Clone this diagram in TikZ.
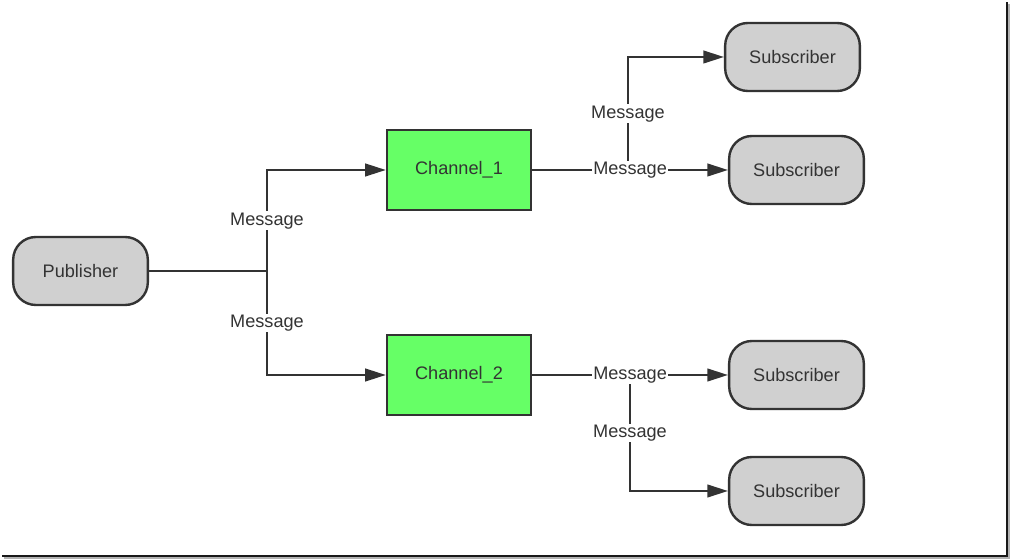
\documentclass[tikz,border=0pt]{standalone}
\usepackage{fontspec}
\setmainfont{Liberation Sans}
\usetikzlibrary{arrows.meta, positioning, calc}

\definecolor{linegray}{HTML}{333333}
\definecolor{boxgray}{HTML}{D0D0D0}
\definecolor{chgreen}{HTML}{66FF66}

\begin{document}
\begin{tikzpicture}[x=0.75pt, y=-0.75pt,
    every node/.style={font=\fontsize{13.6}{16}\selectfont, text=linegray},
    actor/.style={draw=linegray, line width=1.8pt, fill=boxgray, rounded corners=17pt, minimum width=101pt, minimum height=51pt},
    channel/.style={draw=linegray, line width=1.8pt, fill=chgreen, minimum width=108pt, minimum height=60pt},
    msg/.style={fill=white, inner sep=1pt, text height=9.5pt, text depth=2.5pt},
    flow/.style={draw=linegray, line width=1.6pt, -{Triangle[length=15.5pt, width=9.5pt]}}]
  \useasboundingbox (0,0) rectangle (1011,559);
  % frame
  \draw[gray!60, line width=1.5pt] (4,558) -- (1009,558) -- (1009,4);
  \draw[gray!20!black, line width=1.5pt] (2,556) -- (1007,556) -- (1007,2);

  % Nodes
  \node[actor] (pub) at (80.5,271) {Publisher};
  \node[channel] (ch1) at (459,170) {Channel\_1};
  \node[channel] (ch2) at (459,375) {Channel\_2};
  \node[actor] (sub1) at (792.5,57) {Subscriber};
  \node[actor] (sub2) at (796.5,170) {Subscriber};
  \node[actor] (sub3) at (796.5,375) {Subscriber};
  \node[actor] (sub4) at (796.5,491) {Subscriber};

  % Publisher to channels
  \coordinate (fork) at (267,271);
  \draw[draw=linegray, line width=1.6pt] (pub.east) -- (fork);
  \draw[flow] (fork) |- node[msg, pos=0.25] {Message} (ch1.west);
  \draw[flow] (fork) |- node[msg, pos=0.25] {Message} (ch2.west);

  % Channel_1 to subscribers
  \coordinate (split1) at (628,170);
  \draw[flow] (ch1.east) -- (split1) |- node[msg, pos=0.25] {Message} (sub1.west);
  \draw[flow] (ch1.east) -- node[msg] {Message} (sub2.west);

  % Channel_2 to subscribers
  \coordinate (split2) at (630,375);
  \draw[flow] (ch2.east) -- (split2) |- node[msg, pos=0.25] {Message} (sub4.west);
  \draw[flow] (ch2.east) -- node[msg] {Message} (sub3.west);
\end{tikzpicture}
\end{document}
